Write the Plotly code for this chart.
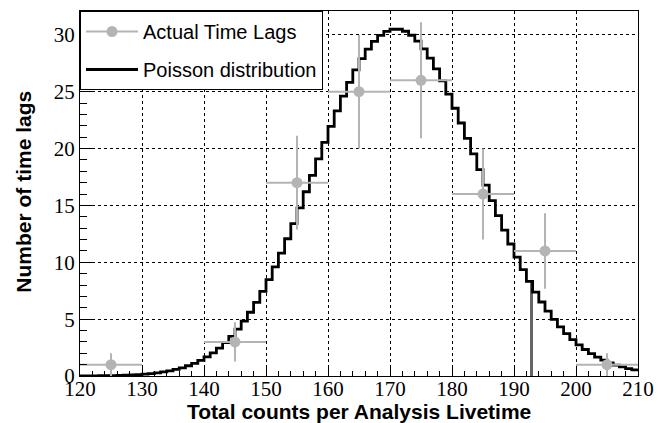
import plotly.graph_objects as go

# Poisson expectation per unit bin (bin low edges 120..209)
bin_edges = list(range(120, 211))
poisson_vals = [
    0.008, 0.011, 0.015, 0.020, 0.028, 0.038, 0.052, 0.070, 0.094, 0.125,   # 120-129
    0.164, 0.214, 0.277, 0.356, 0.454, 0.575, 0.723, 0.903, 1.119, 1.377,   # 130-139
    1.682, 2.040, 2.457, 2.938, 3.489, 4.115, 4.820, 5.607, 6.478, 7.435,   # 140-149
    8.476, 9.599, 10.799, 12.069, 13.401, 14.784, 16.205, 17.650, 19.102, 20.544,  # 150-159
    21.956, 23.320, 24.616, 25.824, 26.926, 27.905, 28.746, 29.435, 29.961, 30.316,  # 160-169
    30.494, 30.494, 30.317, 29.966, 29.449, 28.776, 27.958, 27.010, 25.948, 24.788,  # 170-179
    23.549, 22.248, 20.903, 19.532, 18.152, 16.778, 15.425, 14.105, 12.830, 11.608,  # 180-189
    10.447, 9.353, 8.330, 7.381, 6.506, 5.705, 4.977, 4.320, 3.731, 3.206,   # 190-199
    2.741, 2.332, 1.974, 1.663, 1.394, 1.163, 0.965, 0.797, 0.655, 0.536,   # 200-209
]

# Observed time lags (bins of width 10)
lag_x = [125, 145, 155, 165, 175, 185, 195, 205]
lag_y = [1, 3, 17, 25, 26, 16, 11, 1]
lag_xerr = [5, 5, 5, 5, 5, 5, 5, 5]
lag_yerr = [1.0, 1.73, 4.12, 5.0, 5.10, 4.0, 3.32, 1.0]

# Highlighted value
mark_x = [192.85]
mark_y = [8.33]

x_ticks = [120, 130, 140, 150, 160, 170, 180, 190, 200, 210]
y_ticks = [0, 5, 10, 15, 20, 25, 30]

x_title = "Total counts per Analysis Livetime"
y_title = "Number of time lags"

GRAY = "#b4b4b4"

fig = go.Figure()

fig.add_trace(go.Bar(
    x=mark_x, y=mark_y, width=0.55,
    marker=dict(color="#666666", line=dict(width=0)),
    showlegend=False,
))

fig.add_trace(go.Scatter(
    x=bin_edges, y=poisson_vals + [poisson_vals[-1]],
    mode="lines", line=dict(color="black", width=2.8, shape="hv"),
    showlegend=False,
))

fig.add_trace(go.Scatter(
    x=lag_x, y=lag_y, mode="markers",
    marker=dict(color=GRAY, size=11),
    error_x=dict(type="data", array=lag_xerr, color=GRAY, thickness=2, width=0),
    error_y=dict(type="data", array=lag_yerr, color=GRAY, thickness=2, width=0),
    showlegend=False,
))

# legend entries
fig.add_trace(go.Scatter(
    x=[None], y=[None], mode="lines+markers", name="Actual Time Lags",
    line=dict(color=GRAY, width=2), marker=dict(color=GRAY, size=11),
    legendgroup="a",
))
fig.add_trace(go.Scatter(
    x=[None], y=[None], mode="lines", name="Poisson distribution",
    line=dict(color="black", width=2.8), legendgroup="b",
))

tickfont = dict(family="Liberation Serif", size=21, color="black")
titlefont = dict(family="Liberation Sans", size=21, color="black", weight="bold")

# page body has an 8px default margin: the figure is sized to fit the 667x423 window
fig.update_layout(
    width=659, height=415,
    margin=dict(l=72, r=29, t=3, b=47, autoexpand=False),
    paper_bgcolor="white", plot_bgcolor="white",
    showlegend=True,
    legend=dict(
        x=0, y=1.0, xanchor="left", yanchor="top",
        bgcolor="white", bordercolor="black", borderwidth=1,
        font=dict(family="Liberation Sans", size=20, color="black"),
        tracegroupgap=9, itemwidth=52, entrywidth=185, entrywidthmode="pixels",
    ),
    xaxis=dict(
        range=[120, 210], tickvals=x_ticks, automargin=False,
        ticks="inside", ticklen=10, tickcolor="black", tickwidth=1,
        showline=True, linecolor="black", linewidth=1, mirror=True,
        showgrid=True, gridcolor="black", griddash="dot", gridwidth=1,
        zeroline=False, tickfont=tickfont, ticklabelstandoff=-6,
        minor=dict(ticks="inside", ticklen=5, dtick=2, tickcolor="black", showgrid=False),
    ),
    yaxis=dict(
        range=[0, 32.1], tickvals=y_ticks, automargin=False,
        ticks="inside", ticklen=14, tickcolor="black", tickwidth=1,
        showline=True, linecolor="black", linewidth=1, mirror=True,
        showgrid=True, gridcolor="black", griddash="dot", gridwidth=1,
        zeroline=False, tickfont=tickfont,
        minor=dict(ticks="inside", ticklen=7, dtick=1, tickcolor="black", showgrid=False),
    ),
    bargap=0,
    annotations=[
        dict(text=x_title, xref="paper", yref="paper", x=0.5, y=-0.0986,
             xanchor="center", yanchor="middle", showarrow=False, font=titlefont),
        dict(text=y_title, xref="paper", yref="paper", x=-0.1004, y=0.505,
             xanchor="center", yanchor="middle", textangle=-90, showarrow=False, font=titlefont),
    ],
)

fig.write_html("out.html")
